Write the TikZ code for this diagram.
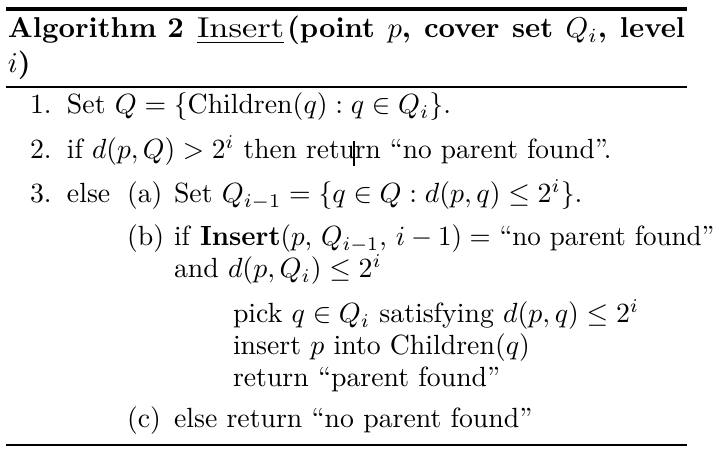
\RequirePackage{fix-cm}
\documentclass[tikz,border=0pt]{standalone}
\usepackage{graphicx}
\begin{document}
\begin{tikzpicture}[x=0.36pt,y=-0.36pt,
  txt/.style={anchor=base west,inner sep=0pt,outer sep=0pt,font=\fontsize{10}{12}\selectfont},
  ttl/.style={anchor=base west,inner sep=0pt,outer sep=0pt,font=\fontsize{10.33}{12.4}\selectfont\bfseries},
  toprule/.style={line width=1.44pt},
  thinrule/.style={line width=0.47pt}]
\useasboundingbox (0,0) rectangle (723,452);
% rules
\coordinate (tl) at (6,9.3); \coordinate (tr) at (687,9.3);
\coordinate (ml) at (6,87); \coordinate (mr) at (687,87);
\coordinate (bl) at (6,445); \coordinate (br) at (687,445);
\draw[toprule] (tl) -- (tr);
\draw[thinrule] (ml) -- (mr);
\draw[thinrule] (bl) -- (br);
% title
\node[ttl] (t1a) at (8,38) {Algorithm 2};
\node[ttl] (t1b) at (197,38) {\underline{\mdseries\scalebox{1.2}[1]{Insert}}};
\node[ttl] (t1c) at (287,38) {\makebox[143.3pt][s]{(point $p$, cover set $Q_i$, level}};
\node[ttl] (t2) at (8,73) {$i$)};
% line 1
\node[txt] (n1) at (30,114) {1.};
\node[txt] (l1) at (67,114) {Set $Q=\{\mathrm{Children}(q) : q\in Q_i\}$.};
% line 2
\node[txt] (n2) at (30,159) {2.};
\node[txt] (l2) at (67,159) {\scalebox{0.986}[1]{if $d(p,Q)>2^i$ then return ``no parent found''.}};
% line 3
\node[txt] (n3) at (30,203) {3.};
\node[txt] (e3) at (67,203) {else};
\node[txt] (na) at (127,203) {(a)};
\node[txt] (la) at (174,203) {Set $Q_{i-1}=\{q\in Q : d(p,q)\le 2^i\}$.};
\node[txt] (nb) at (127,246) {(b)};
\node[txt] (lb) at (174,246) {\scalebox{0.973}[1]{if \textbf{Insert}$(p$, $Q_{i-1}$, $i-1)=$ ``no parent found''}};
\node[txt] (lb2) at (174,278) {and $d(p,Q_i)\le 2^i$};
\node[txt] (p1) at (233,323) {pick $q\in Q_i$ satisfying $d(p,q)\le 2^i$};
\node[txt] (p2) at (233,355) {insert $p$ into Children$(q)$};
\node[txt] (p3) at (233,387) {return ``parent found''};
\node[txt] (nc) at (127,428) {(c)};
\node[txt] (lc) at (174,428) {else return ``no parent found''};
% text cursor
\coordinate (c1) at (354,141); \coordinate (c2) at (354,166);
\draw[line width=0.4pt] (c1) -- (c2);
\end{tikzpicture}
\end{document}
